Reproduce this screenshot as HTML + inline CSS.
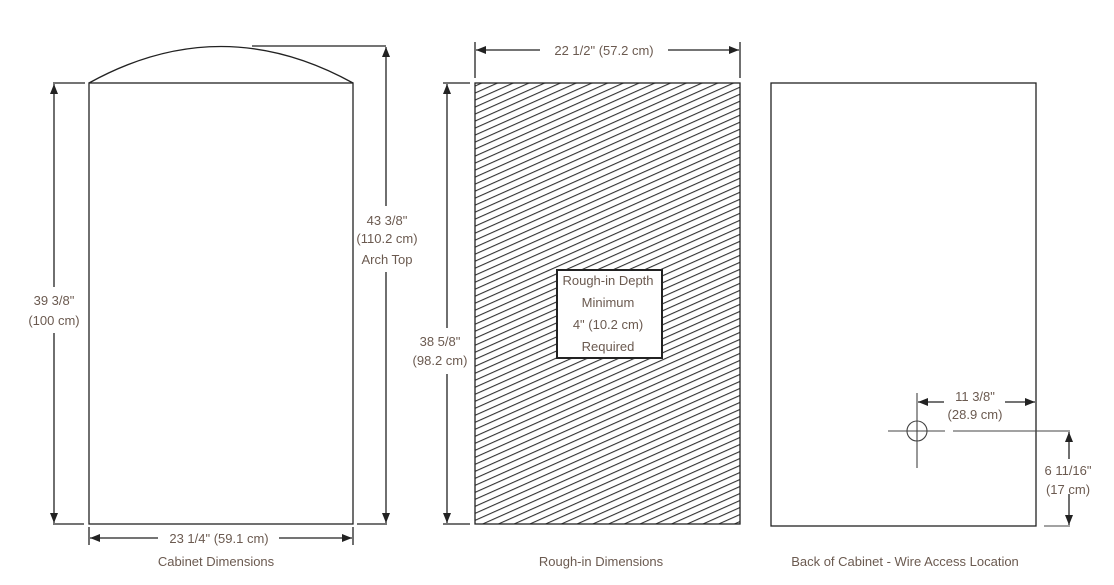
<!DOCTYPE html>
<html><head><meta charset="utf-8"><style>
body{margin:0;background:#fff}
svg text{font-family:"Liberation Sans",sans-serif;font-size:13px;fill:#6b5a50}
</style></head><body>
<svg width="1114" height="580" viewBox="0 0 1114 580" xmlns="http://www.w3.org/2000/svg">
<defs>
<marker id="a" viewBox="0 0 10 10" refX="10" refY="5" markerWidth="10" markerHeight="10" markerUnits="userSpaceOnUse" orient="auto-start-reverse"><path d="M0,1 L10,5 L0,9 Z" fill="#222"/></marker>
<pattern id="h" width="20" height="6.4" patternUnits="userSpaceOnUse" patternTransform="rotate(-24)"><line x1="0" y1="3" x2="20" y2="3" stroke="#333" stroke-width="1.1"/></pattern>
</defs>
<g stroke="#222" stroke-width="1.3" fill="none">
<!-- cabinet -->
<rect x="89" y="83" width="264" height="441"/>
<path d="M89,83 Q221,10 353,83"/>
<polyline points="252,46 386,46"/>
<line x1="386" y1="47" x2="386" y2="206" marker-start="url(#a)"/>
<line x1="386" y1="272" x2="386" y2="523" marker-end="url(#a)"/>
<line x1="357" y1="524" x2="387" y2="524"/>
<line x1="53" y1="83" x2="85" y2="83"/>
<line x1="53" y1="524" x2="84" y2="524"/>
<line x1="54" y1="84" x2="54" y2="287" marker-start="url(#a)"/>
<line x1="54" y1="333" x2="54" y2="523" marker-end="url(#a)"/>
<line x1="89" y1="527" x2="89" y2="545"/>
<line x1="353" y1="527" x2="353" y2="545"/>
<line x1="90" y1="538" x2="158" y2="538" marker-start="url(#a)"/>
<line x1="279" y1="538" x2="352" y2="538" marker-end="url(#a)"/>
<!-- rough-in -->
<rect x="475" y="83" width="265" height="441" fill="url(#h)"/>
<line x1="475" y1="42" x2="475" y2="78"/>
<line x1="740" y1="42" x2="740" y2="78"/>
<line x1="476" y1="50" x2="540" y2="50" marker-start="url(#a)"/>
<line x1="668" y1="50" x2="739" y2="50" marker-end="url(#a)"/>
<line x1="443" y1="83" x2="470" y2="83"/>
<line x1="443" y1="524" x2="470" y2="524"/>
<line x1="447" y1="84" x2="447" y2="328" marker-start="url(#a)"/>
<line x1="447" y1="374" x2="447" y2="523" marker-end="url(#a)"/>
<rect x="557" y="270" width="105" height="88" fill="#fff" stroke-width="2"/>
<!-- back -->
<rect x="771" y="83" width="265" height="443"/>
<g stroke="#444" stroke-width="1.1">
<circle cx="917" cy="431" r="10"/>
<line x1="888" y1="431" x2="945" y2="431"/>
<line x1="953" y1="431" x2="1070" y2="431"/>
<line x1="917" y1="393" x2="917" y2="468"/>
<line x1="1044" y1="526" x2="1070" y2="526"/>
</g>
<line x1="918" y1="402" x2="944" y2="402" marker-start="url(#a)"/>
<line x1="1005" y1="402" x2="1035" y2="402" marker-end="url(#a)"/>
<line x1="1069" y1="432" x2="1069" y2="459" marker-start="url(#a)"/>
<line x1="1069" y1="494" x2="1069" y2="525" marker-end="url(#a)"/>
</g>
<g text-anchor="middle">
<text x="219" y="543">23 1/4" (59.1 cm)</text>
<text x="216" y="566">Cabinet Dimensions</text>
<text x="54" y="305">39 3/8"</text>
<text x="54" y="325">(100 cm)</text>
<text x="387" y="225">43 3/8"</text>
<text x="387" y="243">(110.2 cm)</text>
<text x="387" y="264">Arch Top</text>
<text x="604" y="55">22 1/2" (57.2 cm)</text>
<text x="440" y="346">38 5/8"</text>
<text x="440" y="365">(98.2 cm)</text>
<text x="608" y="285">Rough-in Depth</text>
<text x="608" y="307">Minimum</text>
<text x="608" y="329">4" (10.2 cm)</text>
<text x="608" y="351">Required</text>
<text x="601" y="566">Rough-in Dimensions</text>
<text x="975" y="401">11 3/8"</text>
<text x="975" y="419">(28.9 cm)</text>
<text x="1068" y="475">6 11/16"</text>
<text x="1068" y="494">(17 cm)</text>
<text x="905" y="566">Back of Cabinet - Wire Access Location</text>
</g>
</svg>
</body></html>
